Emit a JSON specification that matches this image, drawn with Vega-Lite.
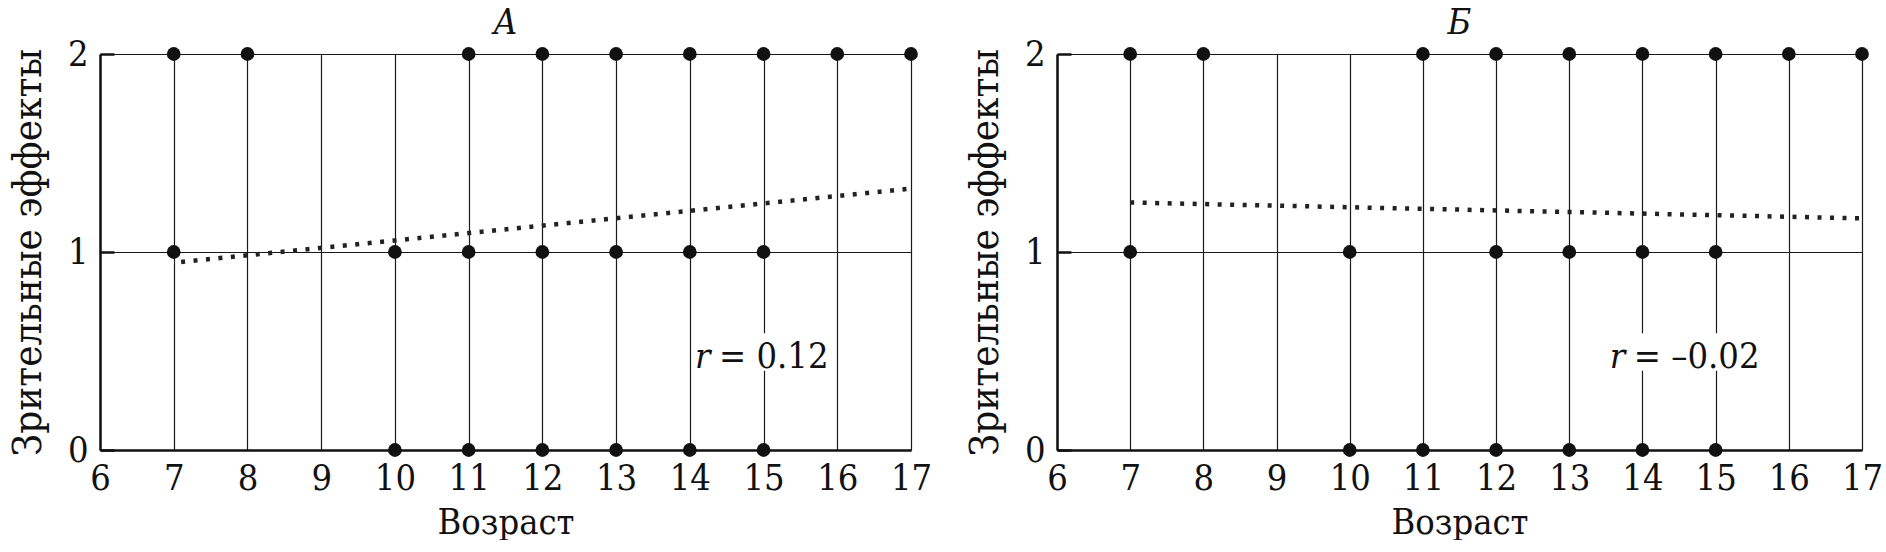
{
  "$schema": "https://vega.github.io/schema/vega-lite/v6.json",
  "background": "white",
  "padding": {"left": 8, "right": 6, "top": 5, "bottom": 0},
  "spacing": 33,
  "config": {
    "font": "DejaVu Serif Condensed, DejaVu Serif",
    "view": {"stroke": null},
    "axis": {
      "grid": true,
      "gridColor": "#1a1a1a",
      "gridWidth": 1.2,
      "gridOpacity": 1,
      "domainColor": "#111111",
      "domainWidth": 2.5,
      "labelColor": "#111111",
      "labelFontSize": 36,
      "labelOverlap": false,
      "labelFlush": false,
      "format": "d",
      "titleColor": "#111111",
      "titleFontWeight": "normal",
      "labelFont": "DejaVu Serif Condensed, DejaVu Serif",
      "titleFont": "DejaVu Serif Condensed, DejaVu Serif"
    },
    "text": {"font": "DejaVu Serif Condensed, DejaVu Serif"},
    "title": {"font": "DejaVu Serif Condensed, DejaVu Serif", "fontSize": 36, "fontStyle": "italic", "fontWeight": "normal", "color": "#111111", "offset": -6}
  },
  "datasets": {
    "points": [
      {"panel": "A", "age": 7, "effect": 2}, {"panel": "A", "age": 8, "effect": 2}, {"panel": "A", "age": 11, "effect": 2},
      {"panel": "A", "age": 12, "effect": 2}, {"panel": "A", "age": 13, "effect": 2}, {"panel": "A", "age": 14, "effect": 2},
      {"panel": "A", "age": 15, "effect": 2}, {"panel": "A", "age": 16, "effect": 2}, {"panel": "A", "age": 17, "effect": 2},
      {"panel": "A", "age": 7, "effect": 1}, {"panel": "A", "age": 10, "effect": 1}, {"panel": "A", "age": 11, "effect": 1},
      {"panel": "A", "age": 12, "effect": 1}, {"panel": "A", "age": 13, "effect": 1}, {"panel": "A", "age": 14, "effect": 1},
      {"panel": "A", "age": 15, "effect": 1},
      {"panel": "A", "age": 10, "effect": 0}, {"panel": "A", "age": 11, "effect": 0}, {"panel": "A", "age": 12, "effect": 0},
      {"panel": "A", "age": 13, "effect": 0}, {"panel": "A", "age": 14, "effect": 0}, {"panel": "A", "age": 15, "effect": 0},
      {"panel": "B", "age": 7, "effect": 2}, {"panel": "B", "age": 8, "effect": 2}, {"panel": "B", "age": 11, "effect": 2},
      {"panel": "B", "age": 12, "effect": 2}, {"panel": "B", "age": 13, "effect": 2}, {"panel": "B", "age": 14, "effect": 2},
      {"panel": "B", "age": 15, "effect": 2}, {"panel": "B", "age": 16, "effect": 2}, {"panel": "B", "age": 17, "effect": 2},
      {"panel": "B", "age": 7, "effect": 1}, {"panel": "B", "age": 10, "effect": 1}, {"panel": "B", "age": 12, "effect": 1},
      {"panel": "B", "age": 13, "effect": 1}, {"panel": "B", "age": 14, "effect": 1}, {"panel": "B", "age": 15, "effect": 1},
      {"panel": "B", "age": 10, "effect": 0}, {"panel": "B", "age": 11, "effect": 0}, {"panel": "B", "age": 12, "effect": 0},
      {"panel": "B", "age": 13, "effect": 0}, {"panel": "B", "age": 14, "effect": 0}, {"panel": "B", "age": 15, "effect": 0}
    ],
    "trend": [
      {"panel": "A", "age": 7.1, "effect": 0.95}, {"panel": "A", "age": 17, "effect": 1.32},
      {"panel": "B", "age": 7, "effect": 1.25}, {"panel": "B", "age": 17, "effect": 1.17}
    ],
    "notes": [
      {"panel": "A", "age": 14.03, "age2": 15.85, "effect": 0.47, "lo": 0.4, "hi": 0.59, "value": "= 0.12"},
      {"panel": "B", "age": 13.5, "age2": 15.85, "effect": 0.47, "lo": 0.4, "hi": 0.59, "value": "= –0.02"}
    ]
  },
  "hconcat": [
    {
      "width": 811,
      "height": 396,
      "title": "А",
      "layer": [
        {
          "data": {"name": "notes"},
          "transform": [{"filter": "datum.panel === 'A'"}],
          "mark": {"type": "rect", "fill": "white"},
          "encoding": {
            "x": {"field": "age", "type": "quantitative", "scale": {"domain": [6, 17], "nice": false, "zero": false},
              "axis": {"values": [6,7,8,9,10,11,12,13,14,15,16,17], "title": "Возраст", "titleFontSize": 36, "ticks": false, "labelPadding": 11, "titlePadding": 9}},
            "x2": {"field": "age2"},
            "y": {"field": "lo", "type": "quantitative", "scale": {"domain": [0, 2], "nice": false},
              "axis": {"values": [0, 1, 2], "title": "Зрительные эффекты", "titleFontSize": 40, "ticks": true, "tickSize": -14, "tickWidth": 2.5, "tickColor": "#111111", "labelPadding": 26, "titlePadding": 19}},
            "y2": {"field": "hi"}
          }
        },
        {
          "data": {"name": "points"},
          "transform": [{"filter": "datum.panel === 'A'"}],
          "mark": {"type": "circle", "size": 190, "opacity": 1, "color": "#111111"},
          "encoding": {
            "x": {"field": "age", "type": "quantitative"},
            "y": {"field": "effect", "type": "quantitative"}
          }
        },
        {
          "data": {"name": "trend"},
          "transform": [{"filter": "datum.panel === 'A'"}],
          "mark": {"type": "line", "color": "#222222", "strokeWidth": 4.5, "strokeDash": [4, 8.5]},
          "encoding": {
            "x": {"field": "age", "type": "quantitative"},
            "y": {"field": "effect", "type": "quantitative"}
          }
        },
        {
          "data": {"name": "notes"},
          "transform": [{"filter": "datum.panel === 'A'"}],
          "mark": {"type": "text", "text": "r", "fontStyle": "italic", "fontSize": 36, "align": "left", "baseline": "middle", "color": "#111111", "dx": 3},
          "encoding": {
            "x": {"field": "age", "type": "quantitative"},
            "y": {"field": "effect", "type": "quantitative"}
          }
        },
        {
          "data": {"name": "notes"},
          "transform": [{"filter": "datum.panel === 'A'"}],
          "mark": {"type": "text", "fontSize": 36, "align": "left", "baseline": "middle", "color": "#111111", "dx": 27},
          "encoding": {
            "x": {"field": "age", "type": "quantitative"},
            "y": {"field": "effect", "type": "quantitative"},
            "text": {"field": "value"}
          }
        }
      ]
    },
    {
      "width": 805,
      "height": 396,
      "title": "Б",
      "layer": [
        {
          "data": {"name": "notes"},
          "transform": [{"filter": "datum.panel === 'B'"}],
          "mark": {"type": "rect", "fill": "white"},
          "encoding": {
            "x": {"field": "age", "type": "quantitative", "scale": {"domain": [6, 17], "nice": false, "zero": false},
              "axis": {"values": [6,7,8,9,10,11,12,13,14,15,16,17], "title": "Возраст", "titleFontSize": 36, "ticks": false, "labelPadding": 11, "titlePadding": 9}},
            "x2": {"field": "age2"},
            "y": {"field": "lo", "type": "quantitative", "scale": {"domain": [0, 2], "nice": false},
              "axis": {"values": [0, 1, 2], "title": "Зрительные эффекты", "titleFontSize": 40, "ticks": true, "tickSize": -14, "tickWidth": 2.5, "tickColor": "#111111", "labelPadding": 26, "titlePadding": 19}},
            "y2": {"field": "hi"}
          }
        },
        {
          "data": {"name": "points"},
          "transform": [{"filter": "datum.panel === 'B'"}],
          "mark": {"type": "circle", "size": 190, "opacity": 1, "color": "#111111"},
          "encoding": {
            "x": {"field": "age", "type": "quantitative"},
            "y": {"field": "effect", "type": "quantitative"}
          }
        },
        {
          "data": {"name": "trend"},
          "transform": [{"filter": "datum.panel === 'B'"}],
          "mark": {"type": "line", "color": "#222222", "strokeWidth": 4.5, "strokeDash": [4, 8.5]},
          "encoding": {
            "x": {"field": "age", "type": "quantitative"},
            "y": {"field": "effect", "type": "quantitative"}
          }
        },
        {
          "data": {"name": "notes"},
          "transform": [{"filter": "datum.panel === 'B'"}],
          "mark": {"type": "text", "text": "r", "fontStyle": "italic", "fontSize": 36, "align": "left", "baseline": "middle", "color": "#111111", "dx": 4},
          "encoding": {
            "x": {"field": "age", "type": "quantitative"},
            "y": {"field": "effect", "type": "quantitative"}
          }
        },
        {
          "data": {"name": "notes"},
          "transform": [{"filter": "datum.panel === 'B'"}],
          "mark": {"type": "text", "fontSize": 36, "align": "left", "baseline": "middle", "color": "#111111", "dx": 28},
          "encoding": {
            "x": {"field": "age", "type": "quantitative"},
            "y": {"field": "effect", "type": "quantitative"},
            "text": {"field": "value"}
          }
        }
      ]
    }
  ]
}
